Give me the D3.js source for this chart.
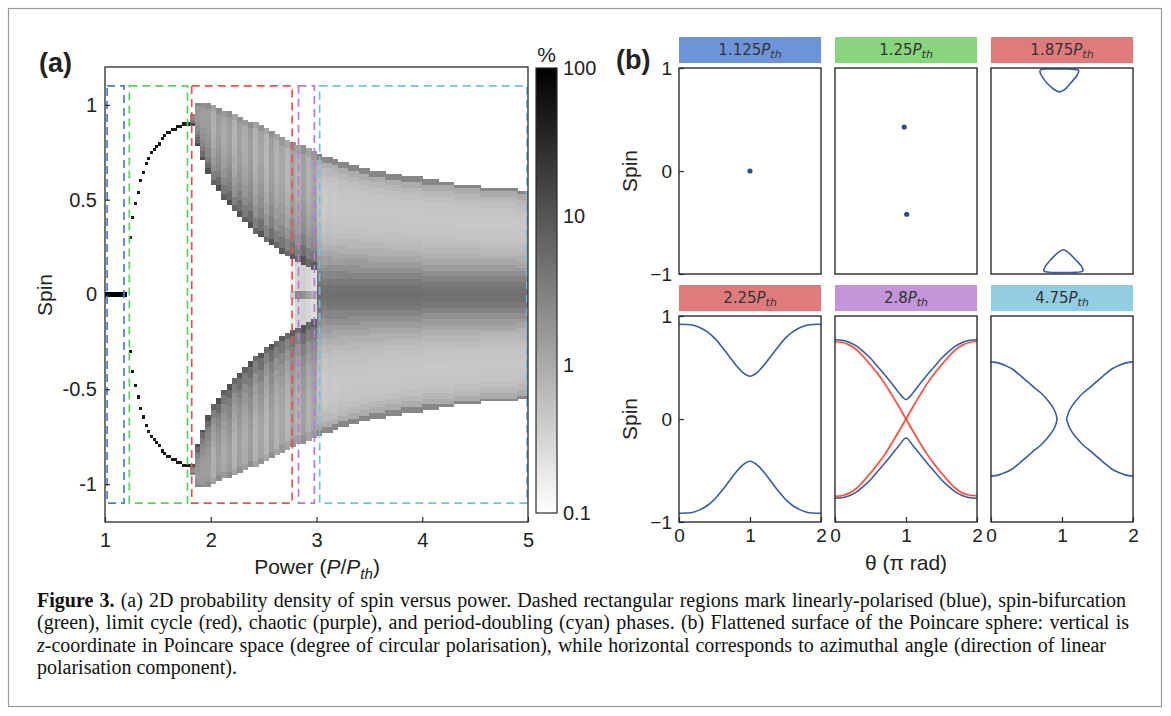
<!DOCTYPE html>
<html>
<head>
<meta charset="utf-8">
<script src="https://cdn.jsdelivr.net/npm/d3@7"></script>
<style>
  body { margin: 0; background: #fff; }
  svg { display: block; }
</style>
</head>
<body>
<svg id="fig" width="1171" height="716"></svg>
<script>
// ---------------------------------------------------------------
// Panel (a): probability density of spin versus pump power
// ---------------------------------------------------------------
const powerTicks = [1, 2, 3, 4, 5];
const spinTicks = [-1, -0.5, 0, 0.5, 1];
const colorbarTicks = [0.1, 1, 10, 100];

// dashed phase regions (power ranges), spin extent +-1.1
const phaseNames  = ["linearly-polarised", "spin-bifurcation", "limit cycle", "chaotic", "period-doubling"];
const phaseStart  = [1.02, 1.23, 1.82, 2.83, 3.03];
const phaseEnd    = [1.18, 1.78, 2.77, 2.98, 4.99];
const phaseColors = ["#4b7fd8", "#5ccf5c", "#e25656", "#b57ad8", "#6ec4e4"];
const phaseSpin   = 1.1;

// spin histogram bin
const spinBin = 0.015;

// fixed point at spin 0 (column left edges, width 0.025)
const fixedPower = [1.000, 1.025, 1.050, 1.075, 1.100, 1.125, 1.150, 1.175];
const fixedDensity = 100;

// spin-bifurcation branch (+ and - spin), column left edges, width 0.025
const branchPower = [1.225, 1.250, 1.275, 1.300, 1.325, 1.350, 1.375, 1.400, 1.425, 1.450, 1.475, 1.500,
                     1.525, 1.550, 1.575, 1.600, 1.625, 1.650, 1.675, 1.700, 1.725, 1.750, 1.775];
const branchSpin  = [0.30, 0.40, 0.48, 0.54, 0.60, 0.645, 0.69, 0.72, 0.745, 0.765, 0.785, 0.80,
                     0.82, 0.835, 0.848, 0.86, 0.868, 0.876, 0.884, 0.89, 0.895, 0.90, 0.905];
const branchDensity = 50;

// oscillating states, column left edges, width 0.05
const cyclePower = [1.80, 1.85, 1.90, 1.95, 2.00, 2.05, 2.10, 2.15, 2.20, 2.25, 2.30, 2.35, 2.40, 2.45, 2.50, 2.55,
                    2.60, 2.65, 2.70, 2.75, 2.80, 2.85, 2.90, 2.95, 3.00, 3.05, 3.10, 3.15, 3.20, 3.25, 3.30, 3.35,
                    3.40, 3.45, 3.50, 3.55, 3.60, 3.65, 3.70, 3.75, 3.80, 3.85, 3.90, 3.95, 4.00, 4.05, 4.10, 4.15,
                    4.20, 4.25, 4.30, 4.35, 4.40, 4.45, 4.50, 4.55, 4.60, 4.65, 4.70, 4.75, 4.80, 4.85, 4.90, 4.95];
// largest |spin| reached in each column
const outerEdge  = [0.95, 1.00, 1.01, 1.00, 0.99, 0.98, 0.965, 0.955, 0.945, 0.93, 0.92, 0.905, 0.895, 0.88, 0.87, 0.855,
                    0.84, 0.825, 0.81, 0.795, 0.785, 0.775, 0.765, 0.75, 0.735, 0.725, 0.715, 0.705, 0.695, 0.69, 0.68, 0.675,
                    0.665, 0.66, 0.65, 0.645, 0.64, 0.635, 0.63, 0.625, 0.62, 0.615, 0.61, 0.61, 0.605, 0.60, 0.595, 0.59,
                    0.585, 0.58, 0.575, 0.575, 0.57, 0.565, 0.565, 0.56, 0.56, 0.555, 0.555, 0.55, 0.55, 0.55, 0.545, 0.545];
// smallest |spin| reached (limit-cycle and chaotic columns only; later columns are filled to 0)
const innerEdge  = [0.90, 0.80, 0.72, 0.65, 0.59, 0.55, 0.51, 0.475, 0.445, 0.415, 0.385, 0.36, 0.335, 0.31, 0.29, 0.27,
                    0.25, 0.23, 0.21, 0.195, 0.18, 0.165, 0.15, 0.13];
// per-column darkness (vertical streaks)
const columnWeight = [1.3, 1.1, 1.0, 1.0, 0.6, 1.0, 0.7, 1.0, 0.55, 0.9, 0.65, 1.0, 0.55, 0.85, 0.5, 0.9,
                      0.55, 0.75, 0.5, 0.8, 0.55, 0.9, 0.55, 0.75, 1.1, 0.9, 1.0, 0.95, 1.0, 1.0, 1.0, 1.0,
                      1.0, 1.0, 1.0, 1.0, 1.0, 1.0, 1.0, 1.0, 1.0, 1.0, 1.0, 1.0, 1.0, 1.0, 1.0, 1.0,
                      1.0, 1.0, 1.0, 1.0, 1.0, 1.0, 1.0, 1.0, 1.0, 1.0, 1.0, 1.0, 1.0, 1.0, 1.0, 1.0];
// faint filling between the two lobes near the chaotic window
const coreFill = [0, 0, 0, 0, 0, 0, 0, 0, 0, 0, 0, 0, 0, 0, 0, 0, 0, 0, 0, 0.15, 0.3, 0.35, 0.3, 0.25];
const coreSpot = [0, 0, 0, 0, 0, 0, 0, 0, 0, 0, 0, 0, 0, 0, 0, 0, 0, 0, 0, 0.4, 2.5, 2.0, 1.2, 0.8];
// density (%) across a lobe, inner edge -> outer edge
const lobeProfile = [11, 5.5, 3.4, 2.5, 2.0, 1.7, 1.5, 1.4, 1.4, 1.5, 2.2];
// density (%) across the filled band, centre -> edge (|spin| / outer edge in steps of 0.05)
const bandProfile = [5, 4.6, 3.8, 2.8, 2.0, 1.45, 1.1, 0.85, 0.7, 0.6, 0.54, 0.5, 0.48, 0.46, 0.46, 0.48, 0.5, 0.56, 0.68, 0.95, 2.6];

// ---------------------------------------------------------------
// Panel (b): flattened Poincare sphere at six pump powers
// ---------------------------------------------------------------
const panelPowers = ["1.125", "1.25", "1.875", "2.25", "2.8", "4.75"];
const panelColors = ["#6d93d9", "#88d47f", "#e07b7b", "#e07b7b", "#c495d9", "#92cde4"];
const thetaTicks = [0, 1, 2];
const panelSpinTicks = [-1, 0, 1];
const thetaGrid = [0, 0.1, 0.2, 0.3, 0.4, 0.5, 0.6, 0.7, 0.8, 0.9, 1.0, 1.1, 1.2, 1.3, 1.4, 1.5, 1.6, 1.7, 1.8, 1.9, 2.0];

// 1.125 P_th: single fixed point
const fixedTheta = [1.0];
const fixedSpin = [0.0];
// 1.25 P_th: two fixed points
const pairTheta = [0.975, 1.01];
const pairSpin = [0.427, -0.42];
// 1.875 P_th: two small closed orbits near the poles
const loopTopTheta = [0.70, 0.85, 1.00, 1.15, 1.235, 1.215, 1.12, 1.03, 0.965, 0.885, 0.79, 0.72, 0.69];
const loopTopSpin  = [0.985, 0.99, 0.99, 0.988, 0.975, 0.932, 0.852, 0.787, 0.768, 0.794, 0.852, 0.916, 0.96];
const loopBotTheta = [1.017, 1.10, 1.19, 1.275, 1.295, 1.15, 1.00, 0.85, 0.745, 0.765, 0.84, 0.935];
const loopBotSpin  = [-0.765, -0.797, -0.862, -0.926, -0.97, -0.985, -0.985, -0.985, -0.97, -0.926, -0.862, -0.797];
// 2.25 P_th: limit cycle (upper and lower branches)
const cycleUpper = [0.92, 0.918, 0.91, 0.885, 0.845, 0.785, 0.705, 0.615, 0.525, 0.45, 0.415,
                    0.45, 0.525, 0.615, 0.705, 0.785, 0.845, 0.885, 0.91, 0.918, 0.92];
const cycleLower = [-0.915, -0.913, -0.905, -0.88, -0.84, -0.78, -0.70, -0.61, -0.52, -0.445, -0.41,
                    -0.445, -0.52, -0.61, -0.70, -0.78, -0.84, -0.88, -0.905, -0.913, -0.915];
// 2.8 P_th: orbit (blue) and chaotic trajectory (red)
const chaosBlueUpper = [0.77, 0.765, 0.745, 0.71, 0.655, 0.59, 0.51, 0.43, 0.345, 0.255, 0.19,
                        0.255, 0.345, 0.43, 0.51, 0.59, 0.655, 0.71, 0.745, 0.765, 0.77];
const chaosBlueLower = [-0.77, -0.765, -0.745, -0.71, -0.655, -0.59, -0.51, -0.43, -0.345, -0.26, -0.185,
                        -0.26, -0.345, -0.43, -0.51, -0.59, -0.655, -0.71, -0.745, -0.765, -0.77];
const chaosRedFalling = [0.75, 0.745, 0.72, 0.675, 0.605, 0.525, 0.44, 0.345, 0.235, 0.12, 0.0,
                         -0.12, -0.235, -0.345, -0.44, -0.525, -0.605, -0.675, -0.72, -0.74, -0.745];
const chaosRedRising  = [-0.75, -0.745, -0.72, -0.675, -0.605, -0.525, -0.44, -0.345, -0.235, -0.12, 0.0,
                         0.12, 0.235, 0.345, 0.44, 0.525, 0.605, 0.675, 0.72, 0.745, 0.755];
// 4.75 P_th: period-doubled orbit, left and right halves
const pdLeftTheta  = [0, 0.1, 0.2, 0.3, 0.4, 0.5, 0.6, 0.7, 0.8, 0.86, 0.9, 0.92, 0.93,
                      0.92, 0.9, 0.86, 0.8, 0.7, 0.6, 0.5, 0.4, 0.3, 0.2, 0.1, 0];
const pdLeftSpin   = [0.555, 0.545, 0.52, 0.485, 0.43, 0.37, 0.31, 0.255, 0.18, 0.125, 0.075, 0.035, 0,
                      -0.035, -0.075, -0.125, -0.18, -0.255, -0.31, -0.37, -0.43, -0.485, -0.52, -0.545, -0.555];
const pdRightTheta = [2, 1.9, 1.8, 1.7, 1.6, 1.5, 1.4, 1.3, 1.2, 1.14, 1.1, 1.08, 1.065,
                      1.08, 1.1, 1.14, 1.2, 1.3, 1.4, 1.5, 1.6, 1.7, 1.8, 1.9, 2];
const pdRightSpin  = [0.555, 0.545, 0.52, 0.485, 0.43, 0.37, 0.31, 0.255, 0.18, 0.125, 0.075, 0.035, 0,
                      -0.035, -0.075, -0.125, -0.18, -0.255, -0.31, -0.37, -0.43, -0.485, -0.52, -0.545, -0.555];

// caption
const captionLines = [
  [{t: "Figure 3.", b: true}, {t: " (a) 2D probability density of spin versus power. Dashed rectangular regions mark linearly-polarised (blue), spin-bifurcation"}],
  [{t: "(green), limit cycle (red), chaotic (purple), and period-doubling (cyan) phases. (b) Flattened surface of the Poincare sphere: vertical is"}],
  [{t: "z", i: true}, {t: "-coordinate in Poincare space (degree of circular polarisation), while horizontal corresponds to azimuthal angle (direction of linear"}],
  [{t: "polarisation component)."}]
];

// ---------------------------------------------------------------
const SANS = "'Liberation Sans', Arial, Helvetica, sans-serif";
const MPL = "'DejaVu Sans', sans-serif";
const SERIF = "'Liberation Serif', 'Times New Roman', serif";
const FRAME = "#2b2b2b";

const svg = d3.select("#fig");

// outer figure border
svg.append("rect").attr("x", 8.5).attr("y", 8.5).attr("width", 1153).attr("height", 698)
  .attr("fill", "none").attr("stroke", "#9a9a9a").attr("stroke-width", 1.2);

// ================= panel (a) =================
const A = {left: 105, right: 528, top: 67, bottom: 522};
const xP = d3.scaleLinear().domain([1, 5]).range([A.left, A.right]);
const yS = d3.scaleLinear().domain([-1.2, 1.2]).range([A.bottom, A.top]);
const shade = d3.scaleLog().domain([0.1, 100]).range(["#ffffff", "#000000"]).clamp(true);

// build histogram cells
const cells = [];
fixedPower.forEach(p => {
  cells.push({p0: p, p1: p + 0.025, k: 0, v: fixedDensity});
});
branchPower.forEach((p, i) => {
  const k = Math.round(branchSpin[i] / spinBin);
  cells.push({p0: p, p1: p + 0.025, k: k, v: branchDensity});
  cells.push({p0: p, p1: p + 0.025, k: -k, v: branchDensity});
});
cyclePower.forEach((p, i) => {
  const p1 = p + 0.05;
  const kOut = Math.round(outerEdge[i] / spinBin);
  const w = columnWeight[i];
  if (i < innerEdge.length) {
    const kIn = Math.round(innerEdge[i] / spinBin);
    const span = Math.max(1, kOut - kIn);
    for (let k = kIn; k <= kOut; k++) {
      const u = (k - kIn) / span;
      const v = lobeProfile[Math.round(u * (lobeProfile.length - 1))] * w;
      cells.push({p0: p, p1, k: k, v});
      cells.push({p0: p, p1, k: -k, v});
    }
    if (coreFill[i] > 0) {
      for (let k = -(kIn - 1); k <= kIn - 1; k++) {
        const v = Math.abs(k) <= 1 ? coreSpot[i] : coreFill[i];
        cells.push({p0: p, p1, k, v});
      }
    }
  } else {
    for (let k = -kOut; k <= kOut; k++) {
      const u = Math.abs(k) / kOut;
      const v = bandProfile[Math.round(u * (bandProfile.length - 1))] * w;
      cells.push({p0: p, p1, k, v});
    }
  }
});

const defs = svg.append("defs");
defs.append("clipPath").attr("id", "clipA").append("rect")
  .attr("x", A.left).attr("y", A.top).attr("width", A.right - A.left).attr("height", A.bottom - A.top);

const gA = svg.append("g");
gA.append("g").attr("clip-path", "url(#clipA)")
  .selectAll("rect").data(cells.filter(d => d.v >= 0.1)).join("rect")
  .attr("x", d => xP(d.p0))
  .attr("width", d => xP(d.p1) - xP(d.p0) + 0.4)
  .attr("y", d => yS(d.k * spinBin + spinBin / 2) - (d.v >= 100 ? 0.6 : 0))
  .attr("height", d => yS(d.k * spinBin - spinBin / 2) - yS(d.k * spinBin + spinBin / 2) + (d.v >= 100 ? 1.5 : 0.3))
  .attr("fill", d => shade(d.v))
  .attr("shape-rendering", "crispEdges");

// dashed phase regions
gA.append("g").selectAll("rect").data(phaseNames).join("rect")
  .attr("x", (d, i) => xP(phaseStart[i]))
  .attr("width", (d, i) => xP(phaseEnd[i]) - xP(phaseStart[i]))
  .attr("y", yS(phaseSpin))
  .attr("height", yS(-phaseSpin) - yS(phaseSpin))
  .attr("fill", "none")
  .attr("stroke", (d, i) => phaseColors[i])
  .attr("stroke-width", 1.7)
  .attr("stroke-dasharray", "8,5");

// frame
gA.append("rect").attr("x", A.left).attr("y", A.top)
  .attr("width", A.right - A.left).attr("height", A.bottom - A.top)
  .attr("fill", "none").attr("stroke", FRAME).attr("stroke-width", 1.3);

const axA_x = gA.append("g").attr("transform", `translate(0,${A.bottom})`)
  .call(d3.axisBottom(xP).tickValues(powerTicks).tickSizeInner(-5).tickSizeOuter(0).tickPadding(11).tickFormat(d3.format("d")));
const axA_y = gA.append("g").attr("transform", `translate(${A.left},0)`)
  .call(d3.axisLeft(yS).tickValues(spinTicks).tickSizeInner(-5).tickSizeOuter(0).tickPadding(8).tickFormat(d => String(d)));
[axA_x, axA_y].forEach(ax => {
  ax.select(".domain").remove();
  ax.selectAll("line").attr("stroke", FRAME).attr("stroke-width", 1.2);
  ax.selectAll("text").attr("font-family", SANS).attr("font-size", 20).attr("fill", "#222");
});

// axis titles
gA.append("text").attr("transform", `translate(52,295) rotate(-90)`)
  .attr("text-anchor", "middle").attr("font-family", SANS).attr("font-size", 21).attr("fill", "#222")
  .text("Spin");
const xt = gA.append("text").attr("x", 317).attr("y", 574).attr("text-anchor", "middle")
  .attr("font-family", SANS).attr("font-size", 21).attr("fill", "#222");
xt.append("tspan").text("Power (");
xt.append("tspan").attr("font-style", "italic").text("P");
xt.append("tspan").text("/");
xt.append("tspan").attr("font-style", "italic").text("P");
xt.append("tspan").attr("font-style", "italic").attr("font-size", 15).attr("dy", 5).text("th");
xt.append("tspan").attr("dy", -5).text(")");

gA.append("text").attr("x", 39).attr("y", 72).attr("font-family", SANS).attr("font-weight", "bold")
  .attr("font-size", 27).attr("fill", "#222").text("(a)");

// colorbar
const CB = {x: 536, w: 21, top: 68, bottom: 513};
const cS = d3.scaleLog().domain([0.1, 100]).range([CB.bottom, CB.top]);
const grad = defs.append("linearGradient").attr("id", "cbGrad")
  .attr("x1", 0).attr("y1", 1).attr("x2", 0).attr("y2", 0);
d3.range(0, 11).forEach(i => {
  const v = Math.pow(10, -1 + 3 * i / 10);
  grad.append("stop").attr("offset", i / 10).attr("stop-color", shade(v));
});
gA.append("rect").attr("x", CB.x).attr("y", CB.top).attr("width", CB.w).attr("height", CB.bottom - CB.top)
  .attr("fill", "url(#cbGrad)").attr("stroke", FRAME).attr("stroke-width", 1.2);
gA.append("g").selectAll("text").data(colorbarTicks).join("text")
  .attr("x", CB.x + CB.w + 6).attr("y", d => cS(d)).attr("dy", "0.35em")
  .attr("font-family", SANS).attr("font-size", 20).attr("fill", "#222")
  .text(d => String(d));
gA.append("text").attr("x", CB.x + CB.w / 2).attr("y", 62).attr("text-anchor", "middle")
  .attr("font-family", SANS).attr("font-size", 21).attr("fill", "#222").text("%");

// ================= panel (b) =================
const colLeft = [679, 835, 991];
const rowTop = [68, 316];
const PW = 142, PH = 206, TITLE_H = 26, TITLE_GAP = 5;
const BLUE = "#3b5c9f";
const RED = "#e8402e";

const gB = svg.append("g");

panelPowers.forEach((pw, idx) => {
  const r = Math.floor(idx / 3), c = idx % 3;
  const x0 = colLeft[c], y0 = rowTop[r];
  const x = d3.scaleLinear().domain([0, 2]).range([x0, x0 + PW]);
  const y = d3.scaleLinear().domain([-1, 1]).range([y0 + PH, y0]);
  const g = gB.append("g");
  const clipId = "clipB" + idx;
  defs.append("clipPath").attr("id", clipId).append("rect")
    .attr("x", x0).attr("y", y0).attr("width", PW).attr("height", PH);

  // title strip
  g.append("rect").attr("x", x0).attr("y", y0 - TITLE_GAP - TITLE_H).attr("width", PW).attr("height", TITLE_H)
    .attr("fill", panelColors[idx]);
  const tt = g.append("text").attr("x", x0 + PW / 2).attr("y", y0 - TITLE_GAP - 8)
    .attr("text-anchor", "middle").attr("font-family", MPL).attr("font-size", 15).attr("fill", "#333");
  tt.append("tspan").text(pw);
  tt.append("tspan").attr("font-style", "italic").text("P");
  tt.append("tspan").attr("font-style", "italic").attr("font-size", 11).attr("dy", 3).text("th");

  const body = g.append("g").attr("clip-path", `url(#${clipId})`);
  const line = d3.line().x(d => x(d[0])).y(d => y(d[1])).curve(d3.curveCatmullRom.alpha(0.5));
  const closed = d3.line().x(d => x(d[0])).y(d => y(d[1])).curve(d3.curveCatmullRomClosed.alpha(0.5));
  const zip = (a, b) => a.map((v, i) => [v, b[i]]);
  const stroke = (sel, col, w) => sel.attr("fill", "none").attr("stroke", col).attr("stroke-width", w)
    .attr("stroke-linejoin", "round").attr("stroke-linecap", "round");

  if (idx === 0 || idx === 1) {
    const th = idx === 0 ? fixedTheta : pairTheta;
    const sp = idx === 0 ? fixedSpin : pairSpin;
    body.selectAll("circle").data(zip(th, sp)).join("circle")
      .attr("cx", d => x(d[0])).attr("cy", d => y(d[1])).attr("r", 2.6).attr("fill", "#2f4f8c");
  } else if (idx === 2) {
    stroke(body.append("path").attr("d", closed(zip(loopTopTheta, loopTopSpin))), BLUE, 1.6);
    stroke(body.append("path").attr("d", closed(zip(loopBotTheta, loopBotSpin))), BLUE, 1.6);
  } else if (idx === 3) {
    stroke(body.append("path").attr("d", line(zip(thetaGrid, cycleUpper))), BLUE, 1.6);
    stroke(body.append("path").attr("d", line(zip(thetaGrid, cycleLower))), BLUE, 1.6);
  } else if (idx === 4) {
    stroke(body.append("path").attr("d", line(zip(thetaGrid, chaosBlueUpper))), BLUE, 1.6);
    stroke(body.append("path").attr("d", line(zip(thetaGrid, chaosBlueLower))), BLUE, 1.6);
    [chaosRedFalling, chaosRedRising].forEach(arr => {
      stroke(body.append("path").attr("d", line(zip(thetaGrid, arr))), RED, 3.0).attr("stroke-opacity", 0.25);
      stroke(body.append("path").attr("d", line(zip(thetaGrid, arr))), RED, 1.2);
    });
  } else if (idx === 5) {
    stroke(body.append("path").attr("d", line(zip(pdLeftTheta, pdLeftSpin))), BLUE, 1.6);
    stroke(body.append("path").attr("d", line(zip(pdRightTheta, pdRightSpin))), BLUE, 1.6);
  }

  // frame
  g.append("rect").attr("x", x0).attr("y", y0).attr("width", PW).attr("height", PH)
    .attr("fill", "none").attr("stroke", FRAME).attr("stroke-width", 1.4);

  if (c === 0) {
    const ay = g.append("g").attr("transform", `translate(${x0},0)`)
      .call(d3.axisLeft(y).tickValues(panelSpinTicks).tickSizeInner(-5).tickSizeOuter(0).tickPadding(7)
        .tickFormat(d => d < 0 ? "\u2212" + Math.abs(d) : String(d)));
    ay.select(".domain").remove();
    ay.selectAll("line").attr("stroke", FRAME).attr("stroke-width", 1.2);
    ay.selectAll("text").attr("font-family", SANS).attr("font-size", 19).attr("fill", "#222");
    g.append("text").attr("transform", `translate(637,${y0 + PH / 2}) rotate(-90)`)
      .attr("text-anchor", "middle").attr("font-family", SANS).attr("font-size", 21).attr("fill", "#222")
      .text("Spin");
  }
  if (r === 1) {
    const ax = g.append("g").attr("transform", `translate(0,${y0 + PH})`)
      .call(d3.axisBottom(x).tickValues(thetaTicks).tickSizeInner(-5).tickSizeOuter(0).tickPadding(7)
        .tickFormat(d3.format("d")));
    ax.select(".domain").remove();
    ax.selectAll("line").attr("stroke", FRAME).attr("stroke-width", 1.2);
    ax.selectAll("text").attr("font-family", SANS).attr("font-size", 19).attr("fill", "#222");
  }
});

gB.append("text").attr("x", 906).attr("y", 570).attr("text-anchor", "middle")
  .attr("font-family", SANS).attr("font-size", 21).attr("fill", "#222").text("\u03b8 (\u03c0 rad)");
gB.append("text").attr("x", 616).attr("y", 69).attr("font-family", SANS).attr("font-weight", "bold")
  .attr("font-size", 27).attr("fill", "#222").text("(b)");

// ================= caption =================
const capBase = [607, 629, 652, 674];
const capRight = [1126, 1129, 1106, null];
captionLines.forEach((parts, li) => {
  const t = svg.append("text").attr("x", 37).attr("y", capBase[li])
    .attr("font-family", SERIF).attr("font-size", 20).attr("fill", "#111");
  parts.forEach(p => {
    const s = t.append("tspan").text(p.t);
    if (p.b) s.attr("font-weight", "bold");
    if (p.i) s.attr("font-style", "italic");
  });
  if (capRight[li] !== null) {
    const natural = t.node().getComputedTextLength();
    const spaces = parts.map(p => p.t).join("").split(" ").length - 1;
    const extra = (capRight[li] - 37 - natural) / spaces;
    t.attr("word-spacing", extra.toFixed(2));
  }
});
</script>
</body>
</html>
